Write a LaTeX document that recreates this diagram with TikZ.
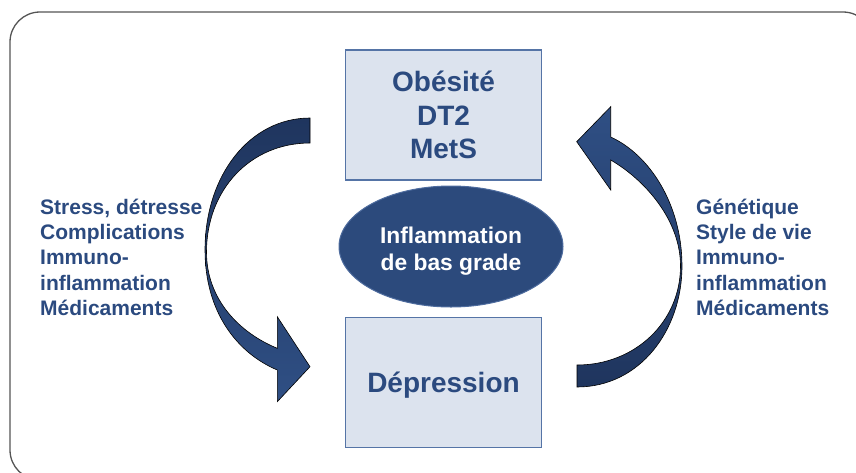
\documentclass[tikz,border=0pt]{standalone}
\usepackage{fontspec}
\setmainfont{Liberation Sans}
\usetikzlibrary{shapes.geometric}
\definecolor{textblue}{HTML}{2B4A7F}
\definecolor{boxfill}{HTML}{DCE3EE}
\definecolor{boxborder}{HTML}{5574A6}
\definecolor{ellfill}{HTML}{2C4A7C}
\definecolor{ellborder}{HTML}{4E6C9E}
\definecolor{arrdark}{HTML}{1F355E}
\definecolor{arrlight}{HTML}{2F4F84}
\definecolor{framegray}{HTML}{555555}
\tikzset{
  bluebox/.style={draw=boxborder, line width=1.3pt, fill=boxfill, minimum width=196pt, minimum height=130pt, inner sep=0pt},
  boxtext/.style={text=textblue, font=\bfseries\fontsize{28}{33.5}\selectfont, align=center, inner sep=0pt},
  sidetext/.style={text=textblue, font=\bfseries\fontsize{21}{25.4}\selectfont, align=left, inner sep=0pt, anchor=north west},
  inflam/.style={ellipse, draw=ellborder, line width=1pt, fill=ellfill, minimum width=224pt, minimum height=121pt, inner sep=0pt},
  inflamtext/.style={text=white, font=\bfseries\fontsize{22.8}{27}\selectfont, align=center, inner sep=0pt},
  curvedarrow/.style={draw=black, line width=0.6pt}
}
\begin{document}
\begin{tikzpicture}[x=1pt,y=-1pt]
\useasboundingbox (0,0) rectangle (856,472);
\begin{scope}
\clip (0,0) rectangle (856,472);
\draw[framegray, line width=1.3pt, rounded corners=30pt] (10,12) rectangle (873,480);
\end{scope}

% boxes
\node[bluebox] (top) at (443.5,115) {};
\node[boxtext] (toptext) at (443.5,115) {Obésité\\DT2\\MetS};
\node[bluebox] (bottom) at (443.5,382.5) {};
\node[boxtext] (bottomtext) at (443.5,385) {Dépression};

% ellipse
\node[inflam] (ell) at (451,246.5) {};
\node[inflamtext] (elltext) at (451,251) {Inflammation\\de bas grade};

% side texts
\node[sidetext] (lefttext) at (40,198.5) {Stress, détresse\\Complications\\Immuno-\\inflammation\\Médicaments};
\node[sidetext] (righttext) at (696,198.5) {Génétique\\Style de vie\\Immuno-\\inflammation\\Médicaments};

% left curved arrow
\path[curvedarrow, top color=arrdark, bottom color=arrlight]
  (310,118) .. controls (250,118) and (205,175) .. (205,250)
  .. controls (205,312) and (237,353) .. (277.3,370)
  -- (277.3,401.7) -- (310,366.7) -- (277.3,316.7) -- (277.3,348.3)
  .. controls (240,333) and (206.5,300) .. (206.5,252)
  .. controls (206.5,190) and (250,143) .. (310,143) -- cycle;

% right curved arrow
\path[curvedarrow, top color=arrlight, bottom color=arrdark]
  (577,387) .. controls (640,387) and (682,330) .. (682,266)
  .. controls (682,205) and (650,155) .. (610.7,137)
  -- (610.7,106.7) -- (576.7,141.7) -- (610.7,190) -- (610.7,160)
  .. controls (645,180) and (680.5,220) .. (680.5,266)
  .. controls (680.5,322) and (635,365) .. (577,365) -- cycle;
\end{tikzpicture}
\end{document}
